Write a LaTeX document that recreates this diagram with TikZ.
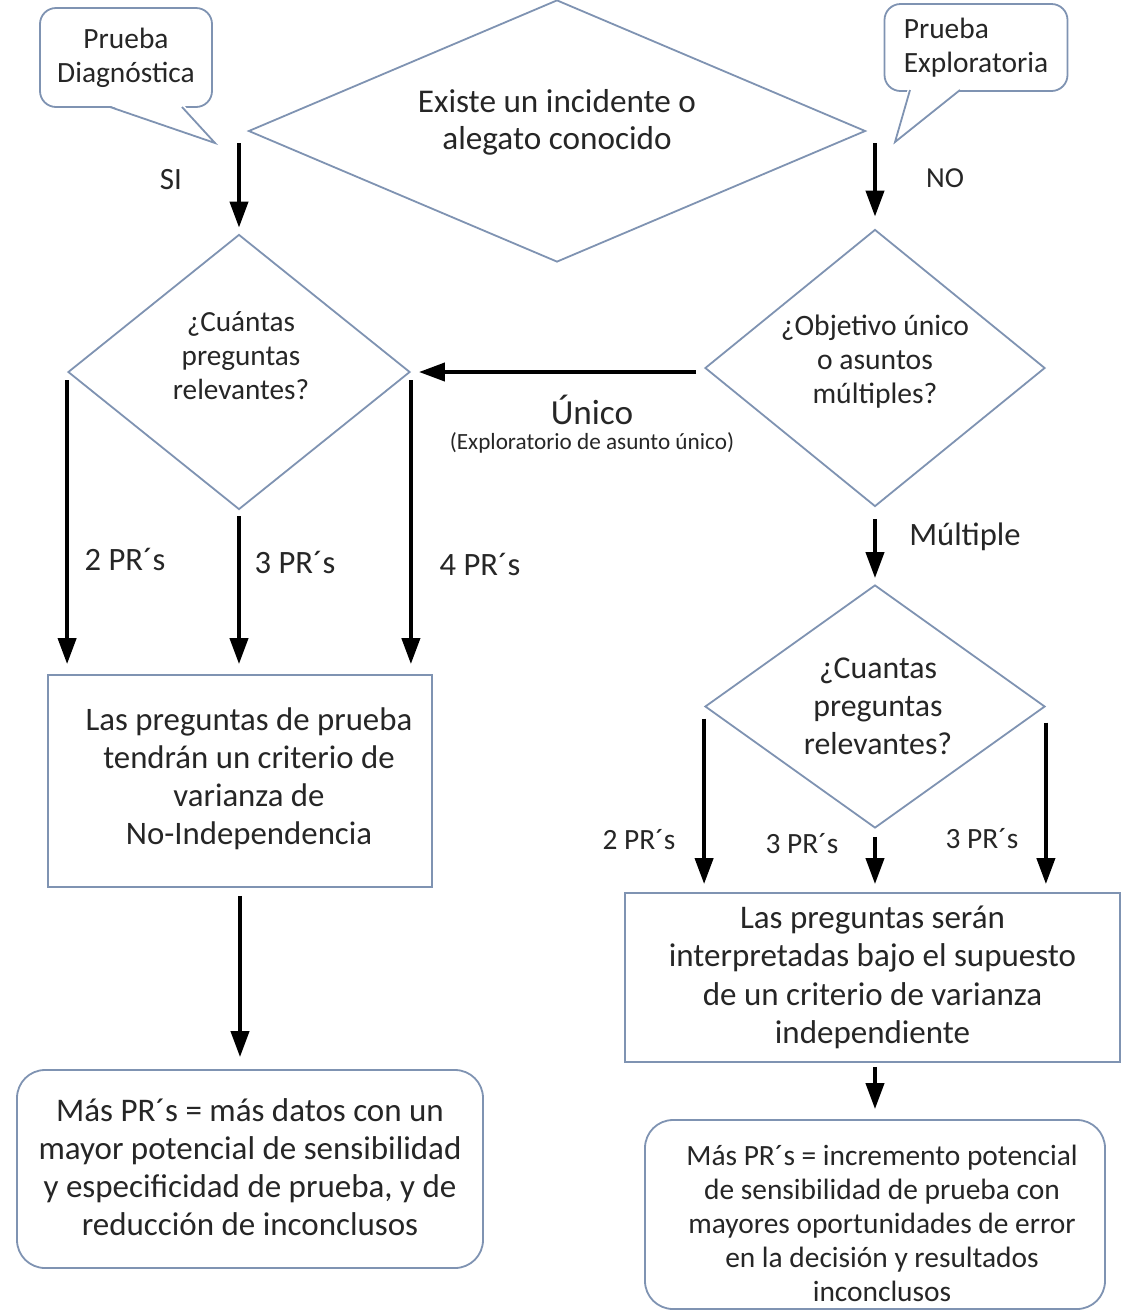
\documentclass[tikz,border=0pt]{standalone}
\usepackage{fontspec}
\setmainfont{Carlito}
\usetikzlibrary{shapes.geometric,arrows.meta}

\definecolor{edgeblue}{RGB}{127,147,178}
\definecolor{textgray}{RGB}{38,38,38}

\tikzset{
    outline/.style={draw=edgeblue, line width=0.9pt, fill=white},
    dia/.style={outline, diamond, inner sep=0pt},
    box/.style={outline, rectangle, align=center, inner sep=0pt, text=textgray},
    rbox/.style={box, rounded corners=14pt},
    bubble/.style={box, rounded corners=8pt},
    txt/.style={text=textgray, align=center, inner sep=0pt},
    arr/.style={line width=2pt, -{Triangle[width=9pt,length=13pt]}},
}

\begin{document}
\begin{tikzpicture}[x=0.5pt, y=-0.5pt]
            \useasboundingbox (0,0) rectangle (1127,1313);

            %callouts
            \node[bubble, minimum width=86pt, minimum height=49.5pt, font=\fontsize{14.7pt}{17pt}\selectfont] (diag) at (126,57.5) {Prueba\\Diagnóstica};
            \fill[white] (108,105) -- (215,143) -- (184,105) -- cycle;
            \draw[draw=edgeblue, line width=0.9pt] (110,107) -- (215,143) -- (182,107);

            \node[bubble, align=left, minimum width=91.5pt, minimum height=43.5pt, font=\fontsize{14.7pt}{17pt}\selectfont] (expl) at (976,47.5) {Prueba\\Exploratoria};
            \fill[white] (908,88) -- (895,142) -- (962,88) -- cycle;
            \draw[draw=edgeblue, line width=0.9pt] (910,90) -- (895,142) -- (960,90);

            %questions
            \node[dia, minimum width=308.5pt, minimum height=131pt] (d0) at (557,131) {};
            \node[txt, font=\fontsize{16.6pt}{18.5pt}\selectfont] (t0) at (557,122) {Existe un incidente o\\alegato conocido};

            \node[dia, minimum width=171pt, minimum height=137.5pt] (q1) at (239,372) {};
            \node[txt, font=\fontsize{14.6pt}{17pt}\selectfont] (t1) at (241,356) {¿Cuántas\\preguntas\\relevantes?};

            \node[dia, minimum width=170pt, minimum height=138.5pt] (d2) at (875,368) {};
            \node[txt, font=\fontsize{14.8pt}{17pt}\selectfont] (t2) at (875,362) {¿Objetivo único\\o asuntos\\múltiples?};

            \node[dia, minimum width=170pt, minimum height=121.5pt] (q3) at (875,706.5) {};
            \node[txt, font=\fontsize{15.9pt}{19pt}\selectfont] (t3) at (878,706) {¿Cuantas\\preguntas\\relevantes?};

            %boxes
            \node[box, minimum width=192pt, minimum height=106pt] (b1) at (240,781) {};
            \node[txt, font=\fontsize{16.4pt}{19pt}\selectfont] (tb1) at (249,779)
                {Las preguntas de prueba\\tendrán un criterio de\\varianza de\\No-Independencia};
            \node[rbox, minimum width=233pt, minimum height=99pt] (r1) at (250,1169) {};
            \node[txt, font=\fontsize{16.5pt}{19pt}\selectfont] (tr1) at (250,1167)
                {Más PR´s = más datos con un\\mayor potencial de sensibilidad\\y especificidad de prueba, y de\\reducción de inconclusos};
            \node[box, minimum width=247.5pt, minimum height=84.5pt, font=\fontsize{16.5pt}{19.25pt}\selectfont] (b2) at (872.5,977.5)
                {Las preguntas serán\\interpretadas bajo el supuesto\\de un criterio de varianza\\independiente};
            \node[rbox, minimum width=230pt, minimum height=94.5pt] (r2) at (875,1214.5) {};
            \node[txt, font=\fontsize{14.7pt}{17pt}\selectfont] (tr2) at (882,1223)
                {Más PR´s = incremento potencial\\de sensibilidad de prueba con\\mayores oportunidades de error\\en la decisión y resultados\\inconclusos};

            %arrows
            \draw[arr] ([yshift=-6pt]d0.west -| q1.north) -- ([yshift=3pt]q1.north);
            \draw[arr] ([yshift=-6pt]d0.east -| d2.north) -- ([yshift=6pt]d2.north);
            \draw[arr] ([xshift=-4pt]d2.west |- q1.east) -- ([xshift=4pt]q1.east);
            \draw[arr] ([yshift=-6pt]d2.south) -- ([yshift=3pt]q3.north);

            \draw[arr] ([yshift=-4pt]q1.west) -- ([yshift=5pt]q1.west |- b1.north);
            \draw[arr] ([yshift=-3pt]q1.south) -- ([yshift=5pt]q1.south |- b1.north);
            \draw[arr] ([yshift=-4pt]q1.east) -- ([yshift=5pt]q1.east |- b1.north);
            \draw[arr] ([yshift=-4pt]b1.south) -- ([yshift=6pt]b1.south |- r1.north);

            \draw[arr] ([yshift=-6pt]q3.west) -- ([yshift=4pt]q3.west |- b2.north);
            \draw[arr] ([yshift=-4pt]q3.south) -- ([yshift=4pt]q3.south |- b2.north);
            \draw[arr] ([yshift=-8pt]q3.east) -- ([yshift=4pt]q3.east |- b2.north);
            \draw[arr] ([yshift=-2pt]q3.south |- b2.south) -- ([yshift=5pt]q3.south |- r2.north);

            %labels
            \node[txt, font=\fontsize{15.5pt}{18pt}\selectfont] (si) at (171,180) {SI};
            \node[txt, font=\fontsize{14.5pt}{17pt}\selectfont] (no) at (945,178) {NO};
            \node[txt, font=\fontsize{17.6pt}{20pt}\selectfont] (unico) at (592,410) {Único};
            \node[txt, font=\fontsize{11.6pt}{14pt}\selectfont] (unico2) at (592,443) {(Exploratorio de asunto único)};
            \node[txt, font=\fontsize{16.3pt}{19pt}\selectfont] (mult) at (965,537) {Múltiple};

            \foreach \x/\y/\n in {125/559/2, 295/562/3, 480/564/4}
            {
                \node[txt, font=\fontsize{16.3pt}{19pt}\selectfont] (pl\n) at (\x,\y) {\n~PR´s};
            }
            \foreach \x/\y/\n/\k in {639/840/2/a, 802/844/3/b, 982/839/3/c}
            {
                \node[txt, font=\fontsize{14.7pt}{17pt}\selectfont] (pr\k) at (\x,\y) {\n~PR´s};
            }

        \end{tikzpicture}
\end{document}
